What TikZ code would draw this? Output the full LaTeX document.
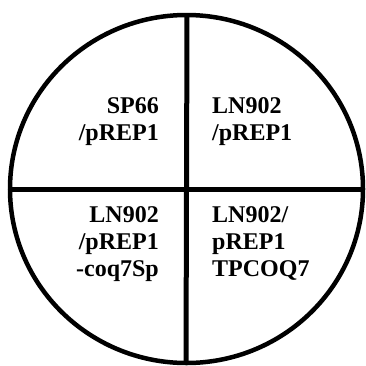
\documentclass[tikz,border=0pt]{standalone}
\usepackage{fontspec}
\setmainfont{Liberation Serif}
\begin{document}
\begin{tikzpicture}[x=1pt,y=-1pt,
  plate/.style={line width=4.5pt, black},
  divider/.style={line width=5pt, black},
  strain/.style={font=\fontsize{24}{27}\selectfont\bfseries, inner sep=0pt},
  strainL/.style={strain, align=right, anchor=base east},
  strainR/.style={strain, align=left, anchor=base west}]
\useasboundingbox (0,0) rectangle (366,365);
% plate outline
\coordinate (c) at (186.5,189);
\draw[plate] (c) ellipse [x radius=176.5, y radius=174];
% quadrant dividers
\coordinate (vt) at (187,15);
\coordinate (vb) at (186,363);
\coordinate (hl) at (10,189.5);
\coordinate (hr) at (363,189.5);
\draw[divider] (vt) -- (vb);
\draw[divider] (hl) -- (hr);
% strain labels
\node[strainL] (q1) at (159,140) {SP66\\/pREP1};
\node[strainR] (q2) at (212,140) {LN902\\/pREP1};
\node[strainL] (q3) at (159,276) {LN902\\/pREP1\\-coq7Sp};
\node[strainR] (q4) at (212,276) {LN902/\\pREP1\\TPCOQ7};
\end{tikzpicture}
\end{document}
